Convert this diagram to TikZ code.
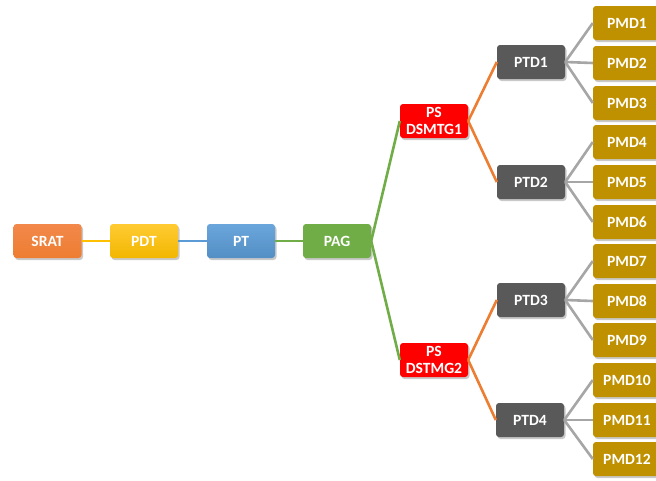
\documentclass[tikz,border=0pt]{standalone}
\usepackage{fontspec}
\setmainfont{Carlito}
\usetikzlibrary{shadows}

\definecolor{cOrange}{HTML}{ED7D31}
\definecolor{cOrangeTop}{HTML}{F2884A}
\definecolor{cYellow}{HTML}{FFC000}
\definecolor{cYellowTop}{HTML}{FFCB33}
\definecolor{cBlue}{HTML}{5B9BD5}
\definecolor{cBlueTop}{HTML}{6AA5DB}
\definecolor{cGreen}{HTML}{70AD47}
\definecolor{cRed}{HTML}{FF0000}
\definecolor{cDark}{HTML}{595959}
\definecolor{cGold}{HTML}{BF9000}
\definecolor{cLine}{HTML}{A6A6A6}

\tikzset{
  box/.style={rounded corners=3pt, minimum width=68pt, minimum height=34pt,
    inner sep=0pt, align=center, text=white,
    font=\fontsize{15.6}{17}\selectfont\bfseries,
    drop shadow={shadow xshift=1.5pt, shadow yshift=-2pt, opacity=0.35, fill=black!60}},
  srat/.style={box, top color=cOrangeTop, bottom color=cOrange},
  pdt/.style={box, top color=cYellowTop, bottom color=cYellow!95!black},
  ptbox/.style={box, top color=cBlueTop, bottom color=cBlue!92!black},
  pag/.style={box, fill=cGreen},
  psbox/.style={box, fill=cRed},
  ptd/.style={box, fill=cDark},
  pmd/.style={box, fill=cGold},
  link/.style={line width=2.6pt},
}

\begin{document}
\begin{tikzpicture}[x=1pt, y=-1pt]
\useasboundingbox (0,0) rectangle (656,480);
\clip (0,0) rectangle (656,480);
\fill[white] (0,0) rectangle (656,480);

% main chain
\node[srat]  (srat) at (47.5,241) {SRAT};
\node[pdt]   (pdt)  at (144,241)  {PDT};
\node[ptbox] (pt)   at (241,241)  {PT};
\node[pag]   (pag)  at (337,241)  {PAG};

% second level
\node[psbox] (ps1) at (434,121) {PS\\DSMTG1};
\node[psbox] (ps2) at (434,360) {PS\\DSTMG2};

% third level
\node[ptd] (ptd1) at (531,62)  {PTD1};
\node[ptd] (ptd2) at (531,182) {PTD2};
\node[ptd] (ptd3) at (531,300) {PTD3};
\node[ptd] (ptd4) at (530,420) {PTD4};

% leaves
\foreach \i/\y in {1/23,2/63,3/103,4/142,5/182,6/222,7/261,8/301,9/340,10/380,11/420,12/459}
  \node[pmd] (pmd\i) at (627,\y) {PMD\i};

% links
\draw[link, cYellow] (srat.east) -- (pdt.west);
\draw[link, cBlue]   (pdt.east) -- (pt.west);
\draw[link, cGreen]  (pt.east) -- (pag.west);
\draw[link, cGreen]  (pag.east) -- (ps1.west);
\draw[link, cGreen]  (pag.east) -- (ps2.west);
\draw[link, cOrange] (ps1.east) -- (ptd1.west);
\draw[link, cOrange] (ps1.east) -- (ptd2.west);
\draw[link, cOrange] (ps2.east) -- (ptd3.west);
\draw[link, cOrange] (ps2.east) -- (ptd4.west);
\foreach \p/\a/\b/\c in {ptd1/1/2/3, ptd2/4/5/6, ptd3/7/8/9, ptd4/10/11/12}{
  \draw[link, cLine] (\p.east) -- (pmd\a.west);
  \draw[link, cLine] (\p.east) -- (pmd\b.west);
  \draw[link, cLine] (\p.east) -- (pmd\c.west);
}
\end{tikzpicture}
\end{document}
